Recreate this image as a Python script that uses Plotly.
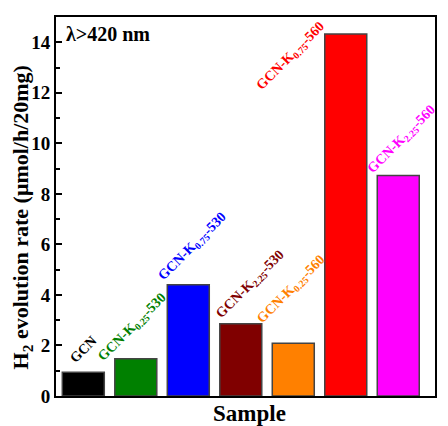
import plotly.graph_objects as go

# Samples and their H2 evolution rates (umol/h/20mg)
samples = ["GCN", "GCN-K0.25-530", "GCN-K0.75-530", "GCN-K2.25-530",
           "GCN-K0.25-560", "GCN-K0.75-560", "GCN-K2.25-560"]
rates = [0.94, 1.47, 4.40, 2.86, 2.09, 14.33, 8.73]
bar_colors = ["#000000", "#008000", "#0000ff", "#800000",
              "#ff8000", "#ff0000", "#ff00ff"]
label_texts = ["GCN",
               "GCN-K<sub>0.25</sub>-530",
               "GCN-K<sub>0.75</sub>-530",
               "GCN-K<sub>2.25</sub>-530",
               "GCN-K<sub>0.25</sub>-560",
               "GCN-K<sub>0.75</sub>-560",
               "GCN-K<sub>2.25</sub>-560"]
y_ticks = [0, 2, 4, 6, 8, 10, 12, 14]

# label placement relative to each bar (category offset, value offset)
label_dx = [0.0, -0.06, 0.09, 0.19, -0.03, -1.05, 0.07]
label_dy = [0.89, 1.23, 1.51, 1.54, 2.11, -0.88, 1.43]

FONT = "Liberation Serif"

fig = go.Figure()
fig.add_trace(go.Bar(
    x=samples, y=rates, width=0.8,
    marker=dict(color=bar_colors, line=dict(color="#444444", width=1.5)),
    showlegend=False,
))

for i, (txt, col) in enumerate(zip(label_texts, bar_colors)):
    fig.add_annotation(
        x=i + label_dx[i], y=rates[i] + label_dy[i], xref="x", yref="y",
        text="<b>" + txt + "</b>", showarrow=False, textangle=-45,
        font=dict(family=FONT, size=14, color=col),
        xanchor="center", yanchor="middle",
    )

fig.add_annotation(
    x=0.02, y=0.99, xref="paper", yref="paper",
    text="<b>λ>420 nm</b>", showarrow=False,
    font=dict(family=FONT, size=20, color="black"),
    xanchor="left", yanchor="top",
)

# axis titles
fig.add_annotation(
    x=-0.089, y=0.472, xref="paper", yref="paper",
    text="<b>H<sub>2</sub> evolution rate (μmol/h/20mg)</b>", showarrow=False,
    textangle=-90, font=dict(family=FONT, size=22, color="black"),
    xanchor="center", yanchor="middle",
)
fig.add_annotation(
    x=0.51, y=-0.045, xref="paper", yref="paper",
    text="<b>Sample</b>", showarrow=False,
    font=dict(family=FONT, size=23, color="black"),
    xanchor="center", yanchor="middle",
)

fig.update_layout(
    width=448, height=426,
    margin=dict(l=56, r=11, t=17, b=30),
    paper_bgcolor="white", plot_bgcolor="white",
    font=dict(family=FONT, color="black"),
    bargap=0.2,
)
fig.update_xaxes(
    type="category", range=[-0.52, 6.7],
    showticklabels=False, ticks="",
    showline=True, linewidth=2, linecolor="black", mirror=True,
    showgrid=False,
)
fig.update_yaxes(
    range=[0, 15],
    tickmode="array", tickvals=y_ticks,
    ticktext=["<b>%d</b>" % v for v in y_ticks],
    ticks="inside", ticklen=6, tickwidth=2, tickcolor="black",
    minor=dict(dtick=1, ticks="inside", ticklen=4, tickwidth=1.5, tickcolor="black"),
    tickfont=dict(family=FONT, size=19, color="black"),
    showline=True, linewidth=2, linecolor="black", mirror=True,
    showgrid=False, zeroline=False,
)

fig.write_html("out.html")
